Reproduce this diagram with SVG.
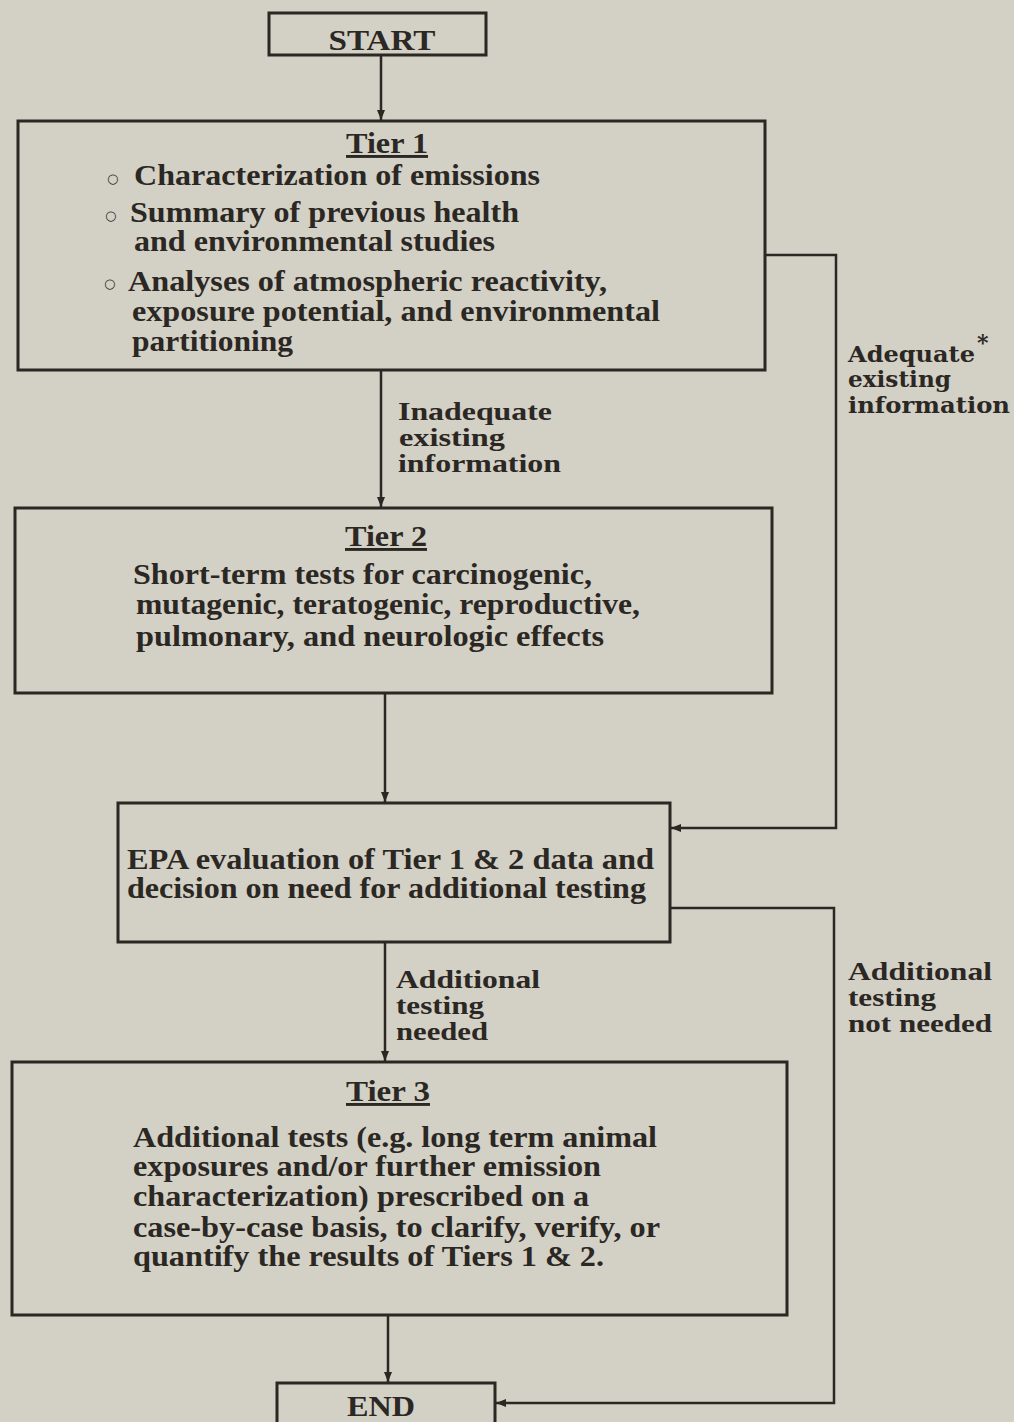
<svg xmlns="http://www.w3.org/2000/svg" width="1014" height="1422" viewBox="0 0 1014 1422">
<style>
.bg{fill:#d3d0c6}
.box{fill:none;stroke:#2b2723;stroke-width:3}
.ln{fill:none;stroke:#2b2723;stroke-width:2.5}
.t{font-family:"Liberation Serif","Times New Roman",serif;font-weight:bold;font-size:29px;fill:#2b2723}
.b{font-family:"DejaVu Sans","Liberation Sans",sans-serif;font-weight:bold;font-size:13px;fill:#2b2723}
.c{text-anchor:middle}
.lab{font-family:"Liberation Serif","Times New Roman",serif;font-weight:bold;font-size:25px;fill:#2b2723}
.slab{font-family:"DejaVu Serif","Liberation Serif",serif;font-weight:bold;font-size:22px;fill:#2b2723}
.u{text-decoration:underline}
</style>
<defs>
<marker id="ah" viewBox="0 0 10 10" refX="10" refY="5" markerWidth="4" markerHeight="4" orient="auto" markerUnits="strokeWidth">
<path d="M0,1 L10,5 L0,9 z" fill="#2b2723"/>
</marker>
</defs>
<rect class="bg" x="0" y="0" width="1014" height="1422"/>
<g id="connectors">
<path class="ln" d="M381,55 V120" marker-end="url(#ah)"/>
<path class="ln" d="M381,370 V507" marker-end="url(#ah)"/>
<path class="ln" d="M385,693 V802" marker-end="url(#ah)"/>
<path class="ln" d="M385,942 V1061" marker-end="url(#ah)"/>
<path class="ln" d="M388,1315 V1382" marker-end="url(#ah)"/>
<path class="ln" d="M765,255 H836 V828 H671" marker-end="url(#ah)"/>
<path class="ln" d="M670,908 H834 V1403 H496" marker-end="url(#ah)"/>
<text class="lab" x="398" y="420" textLength="154" lengthAdjust="spacingAndGlyphs">Inadequate</text>
<text class="lab" x="399" y="446" textLength="106" lengthAdjust="spacingAndGlyphs">existing</text>
<text class="lab" x="398" y="472" textLength="163" lengthAdjust="spacingAndGlyphs">information</text>
<text class="slab" x="848" y="362" textLength="127" lengthAdjust="spacingAndGlyphs">Adequate</text>
<text class="slab" x="977" y="350" font-size="15">*</text>
<text class="slab" x="848" y="387" textLength="103" lengthAdjust="spacingAndGlyphs">existing</text>
<text class="slab" x="848" y="413" textLength="162" lengthAdjust="spacingAndGlyphs">information</text>
<text class="lab" x="396" y="988" textLength="144" lengthAdjust="spacingAndGlyphs">Additional</text>
<text class="lab" x="396" y="1014" textLength="88" lengthAdjust="spacingAndGlyphs">testing</text>
<text class="lab" x="396" y="1040" textLength="92" lengthAdjust="spacingAndGlyphs">needed</text>
<text class="lab" x="848" y="980" textLength="144" lengthAdjust="spacingAndGlyphs">Additional</text>
<text class="lab" x="848" y="1006" textLength="88" lengthAdjust="spacingAndGlyphs">testing</text>
<text class="lab" x="848" y="1032" textLength="144" lengthAdjust="spacingAndGlyphs">not needed</text>
</g>
<g id="start">
<rect class="box" x="269" y="13" width="217" height="42"/>
<text class="t c" x="382" y="50" textLength="107" lengthAdjust="spacingAndGlyphs">START</text>
</g>
<g id="tier1">
<rect class="box" x="18" y="121" width="747" height="249"/>
<text class="t c u" x="387" y="153" textLength="82" lengthAdjust="spacingAndGlyphs">Tier 1</text>
<text class="b" x="107" y="183">○</text>
<text class="t" x="134" y="185" textLength="406" lengthAdjust="spacingAndGlyphs">Characterization of emissions</text>
<text class="b" x="105" y="220">○</text>
<text class="t" x="130" y="222" textLength="389" lengthAdjust="spacingAndGlyphs">Summary of previous health</text>
<text class="t" x="134" y="251" textLength="361" lengthAdjust="spacingAndGlyphs">and environmental studies</text>
<text class="b" x="104" y="288">○</text>
<text class="t" x="128" y="291" textLength="479" lengthAdjust="spacingAndGlyphs">Analyses of atmospheric reactivity,</text>
<text class="t" x="132" y="321" textLength="528" lengthAdjust="spacingAndGlyphs">exposure potential, and environmental</text>
<text class="t" x="132" y="351" textLength="161" lengthAdjust="spacingAndGlyphs">partitioning</text>
</g>
<g id="tier2">
<rect class="box" x="15" y="508" width="757" height="185"/>
<text class="t c u" x="386" y="546" textLength="82" lengthAdjust="spacingAndGlyphs">Tier 2</text>
<text class="t" x="133" y="584" textLength="459" lengthAdjust="spacingAndGlyphs">Short-term tests for carcinogenic,</text>
<text class="t" x="136" y="614" textLength="504" lengthAdjust="spacingAndGlyphs">mutagenic, teratogenic, reproductive,</text>
<text class="t" x="136" y="646" textLength="468" lengthAdjust="spacingAndGlyphs">pulmonary, and neurologic effects</text>
</g>
<g id="epa">
<rect class="box" x="118" y="803" width="552" height="139"/>
<text class="t" x="127" y="869" textLength="527" lengthAdjust="spacingAndGlyphs">EPA evaluation of Tier 1 &amp; 2 data and</text>
<text class="t" x="127" y="898" textLength="519" lengthAdjust="spacingAndGlyphs">decision on need for additional testing</text>
</g>
<g id="tier3">
<rect class="box" x="12" y="1062" width="775" height="253"/>
<text class="t c u" x="388" y="1101" textLength="84" lengthAdjust="spacingAndGlyphs">Tier 3</text>
<text class="t" x="133" y="1147" textLength="524" lengthAdjust="spacingAndGlyphs">Additional tests (e.g. long term animal</text>
<text class="t" x="133" y="1176" textLength="468" lengthAdjust="spacingAndGlyphs">exposures and/or further emission</text>
<text class="t" x="133" y="1206" textLength="456" lengthAdjust="spacingAndGlyphs">characterization) prescribed on a</text>
<text class="t" x="133" y="1237" textLength="527" lengthAdjust="spacingAndGlyphs">case-by-case basis, to clarify, verify, or</text>
<text class="t" x="133" y="1266" textLength="471" lengthAdjust="spacingAndGlyphs">quantify the results of Tiers 1 &amp; 2.</text>
</g>
<g id="end">
<rect class="box" x="277" y="1383" width="218" height="45"/>
<text class="t c" x="381" y="1416" textLength="68" lengthAdjust="spacingAndGlyphs">END</text>
</g>
</svg>
